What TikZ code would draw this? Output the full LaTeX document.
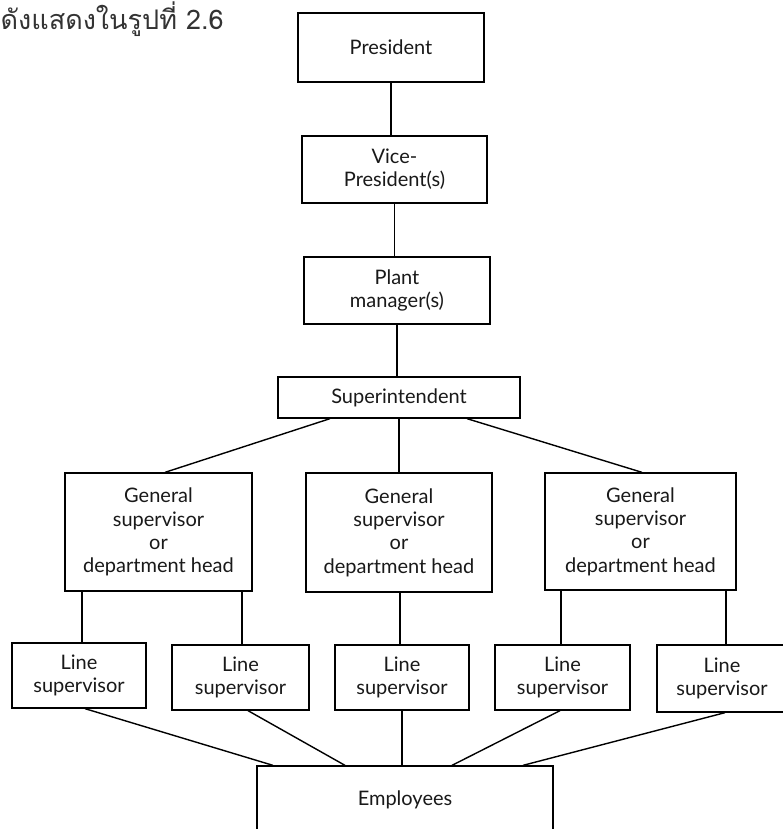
\documentclass[tikz,border=0pt]{standalone}
\usepackage{fontspec}
\setmainfont{Lato}
\newfontfamily\thaifont[Script=Thai]{Loma}
\usetikzlibrary{calc}
\begin{document}
\begin{tikzpicture}[x=1pt,y=-1pt,
  box/.style={draw=black, line width=1.3pt, rectangle, inner sep=0pt, align=center,
    font=\fontsize{20}{23.3}\selectfont, text=black!90},
  link/.style={draw=black, line width=1.4pt}]
\useasboundingbox (0,0) rectangle (783,829);
\clip (0,0) rectangle (783,829);
\fill[white] (0,0) rectangle (783,829);

\node[anchor=base west, inner sep=0pt, font=\thaifont\fontsize{27}{31}\selectfont, text=black!80] (cap) at (0.5,30) {ดังแสดงในรูปที่ 2.6};

\node[box, minimum width=186pt, minimum height=69pt] (pres) at (391,47.5) {President};
\node[box, minimum width=185pt, minimum height=67pt] (vp) at (394.5,169.5) {Vice-\\President(s)};
\node[box, minimum width=186pt, minimum height=67pt] (pm) at (397,290.5) {Plant\\manager(s)};
\node[box, minimum width=242pt, minimum height=41pt] (sup) at (399,397.5) {Superintendent};

\node[box, minimum width=187pt, minimum height=118pt] (gs1) at (158.5,532) {General\\supervisor\\or\\department head};
\node[box, minimum width=186pt, minimum height=119pt] (gs2) at (399,532.5) {General\\supervisor\\or\\department head};
\node[box, minimum width=191pt, minimum height=117pt] (gs3) at (640.5,531.5) {General\\supervisor\\or\\department head};

\node[box, minimum width=134pt, minimum height=65pt] (ls1) at (79,675.5) {Line\\supervisor};
\node[box, minimum width=137pt, minimum height=65pt] (ls2) at (240.5,677.5) {Line\\supervisor};
\node[box, minimum width=134pt, minimum height=65pt] (ls3) at (402,677.5) {Line\\supervisor};
\node[box, minimum width=135pt, minimum height=65pt] (ls4) at (562.5,677.5) {Line\\supervisor};
\node[box, minimum width=130pt, minimum height=67pt] (ls5) at (722,678.5) {Line\\supervisor};

\node[box, minimum width=296pt, minimum height=68pt] (emp) at (405,800) {Employees};

% vertical chain
\draw[link] (pres.south) -- (pres.south |- vp.north);
\draw[link] (vp.south) -- (vp.south |- pm.north);
\draw[link] (pm.south) -- (pm.south |- sup.north);

% superintendent to general supervisors
\draw[link] ([xshift=-69pt]sup.south) -- ([xshift=6.5pt]gs1.north);
\draw[link] (sup.south) -- (sup.south |- gs2.north);
\draw[link] ([xshift=68pt]sup.south) -- ([xshift=1.5pt]gs3.north);

% general supervisors to line supervisors
\draw[link] ([xshift=3pt]ls1.north) -- ([xshift=3pt]ls1.north |- gs1.south);
\draw[link] ([xshift=1.5pt]ls2.north) -- ([xshift=1.5pt]ls2.north |- gs1.south);
\draw[link] ([xshift=-2pt]ls3.north) -- ([xshift=-2pt]ls3.north |- gs2.south);
\draw[link] ([xshift=-1.5pt]ls4.north) -- ([xshift=-1.5pt]ls4.north |- gs3.south);
\draw[link] ([xshift=4pt]ls5.north) -- ([xshift=4pt]ls5.north |- gs3.south);

% line supervisors to employees
\draw[link] ([xshift=6pt]ls1.south) -- ([xshift=-132pt]emp.north);
\draw[link] ([xshift=7.5pt]ls2.south) -- ([xshift=-60pt]emp.north);
\draw[link] (ls3.south) -- (ls3.south |- emp.north);
\draw[link] ([xshift=-2.5pt]ls4.south) -- ([xshift=47pt]emp.north);
\draw[link] ([xshift=3pt]ls5.south) -- ([xshift=118pt]emp.north);
\end{tikzpicture}
\end{document}
